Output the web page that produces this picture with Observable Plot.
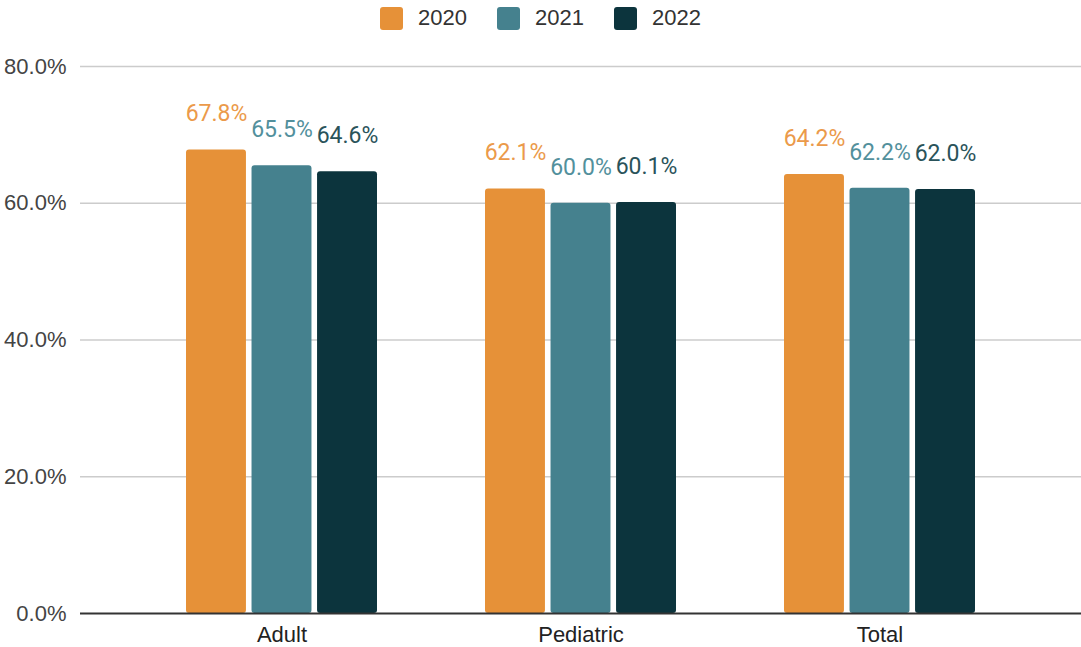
<!DOCTYPE html>
<html>
<head>
<meta charset="utf-8">
<script src="https://cdn.jsdelivr.net/npm/d3@7"></script>
<script src="https://cdn.jsdelivr.net/npm/@observablehq/plot@0.6"></script>
<style>
  html, body { margin: 0; padding: 0; background: #fff; }
  #legend { height: 36px; display: flex; justify-content: center; align-items: center; font-family: "Liberation Sans", Arial, sans-serif; font-size: 22px; color: #333; }
  .item { display: flex; align-items: center; margin: 0 15px; }
  .sw { width: 23px; height: 23px; border-radius: 3px; margin-right: 15px; }
</style>
</head>
<body>
<div id="legend"></div>
<div id="chart"></div>
<script>
const categories = ["Adult", "Pediatric", "Total"];
const years = ["2020", "2021", "2022"];
const values2020 = [67.8, 62.1, 64.2];
const values2021 = [65.5, 60.0, 62.2];
const values2022 = [64.6, 60.1, 62.0];
const yTicks = [0, 20, 40, 60, 80];
const colors = ["#e69138", "#45818e", "#0c343d"];
const labelColors = ["#eb9a4a", "#52909c", "#2a535a"];

const series = [values2020, values2021, values2022];

const legend = document.getElementById("legend");
years.forEach((y, j) => {
  const it = document.createElement("div");
  it.className = "item";
  it.innerHTML = `<div class="sw" style="background:${colors[j]}"></div><span>${y}</span>`;
  legend.appendChild(it);
});

const W = 1081, ML = 80, MR = 0;
const pIn = 0.36, pOut = 0.352, gap = 5;
// band geometry, derived from the same band scale settings used by Plot
const band = d3.scaleBand(categories, [ML, W - MR]).paddingInner(pIn).paddingOuter(pOut);
const bw = band.bandwidth();
const bar = (bw - 2 * gap) / 3;

const marks = [
  Plot.ruleY(yTicks.filter(d => d > 0), {stroke: "#cccccc", strokeWidth: 1.3})
];
years.forEach((yr, j) => {
  const d = categories.map((c, i) => ({category: c, year: yr, value: series[j][i]}));
  const left = j * (bar + gap), right = (2 - j) * (bar + gap);
  marks.push(Plot.barY(d, {x: "category", y: "value", fill: colors[j], rx: 3, insetLeft: left, insetRight: right}));
  marks.push(Plot.text(d, {x: "category", y: "value", text: v => v.value.toFixed(1) + "%", fill: labelColors[j],
    dx: -bw / 2 + left + bar / 2, dy: -36, fontSize: 23, fontWeight: 400, fontFamily: "Roboto, sans-serif"}));
});
marks.push(Plot.ruleY([0], {stroke: "#333", strokeWidth: 2}));

const chart = Plot.plot({
  width: W,
  height: 611,
  marginLeft: ML,
  marginRight: MR,
  marginTop: 30,
  marginBottom: 34,
  style: {fontSize: "22px", fontFamily: "Liberation Sans, Arial, sans-serif", color: "#444", background: "#fff"},
  x: {domain: categories, paddingInner: pIn, paddingOuter: pOut, label: null, tickSize: 0, tickPadding: 13},
  y: {domain: [0, 80], ticks: yTicks, tickFormat: d => d.toFixed(1) + "%", tickSize: 0, tickPadding: 14, label: null},
  marks
});
chart.querySelectorAll('[aria-label="x-axis tick label"] text').forEach(t => t.setAttribute("fill", "#222"));
document.getElementById("chart").appendChild(chart);
</script>
</body>
</html>
